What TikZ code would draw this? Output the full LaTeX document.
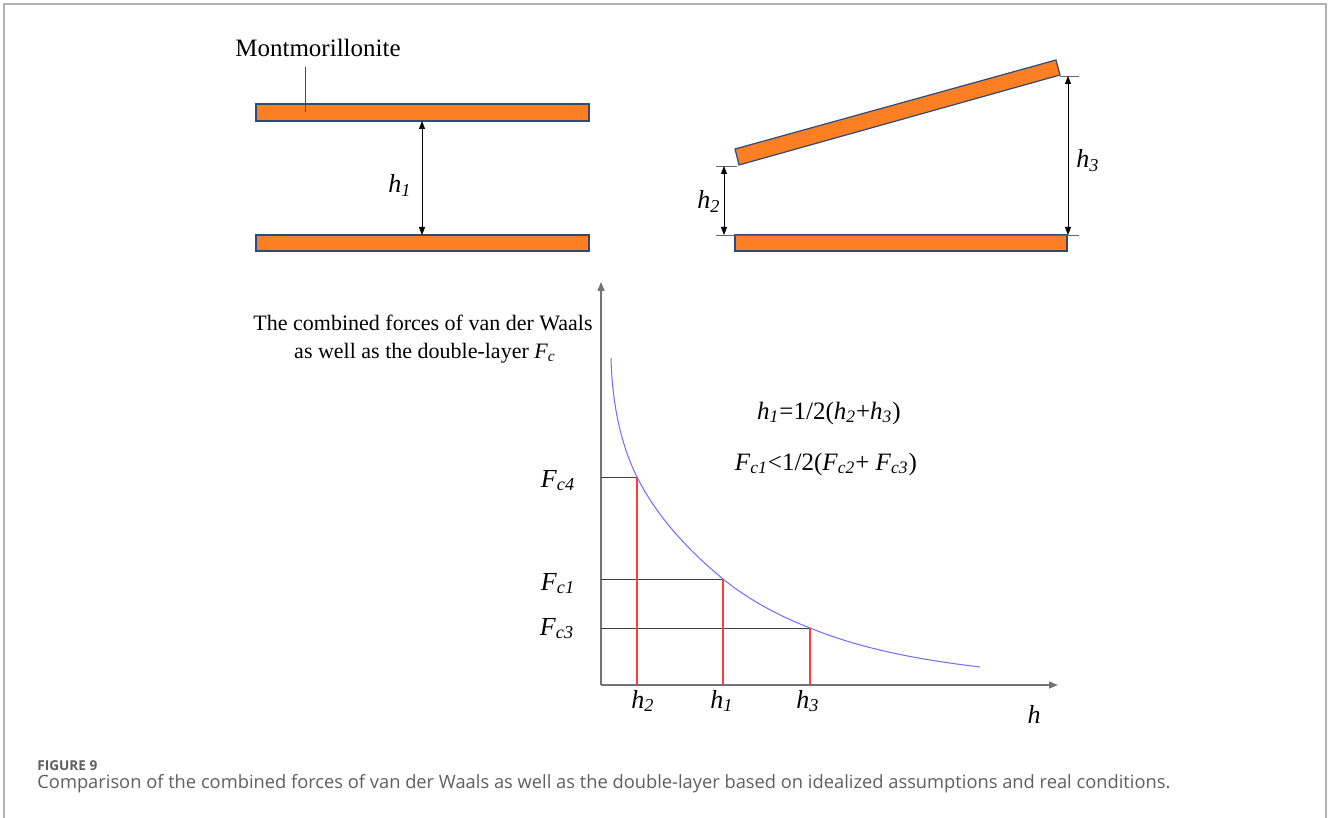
\documentclass[tikz,border=0pt]{standalone}
\usepackage{fontspec}
\setmainfont{Liberation Serif}
\newfontfamily\capfont{Open Sans}
\usepackage{tikz}
\usetikzlibrary{arrows.meta}

\definecolor{plateorange}{HTML}{FD7F23}
\definecolor{plateedge}{HTML}{2E4A78}
\definecolor{curveblue}{HTML}{6B6BFF}
\definecolor{gridred}{HTML}{FF3B3B}
\definecolor{captgray}{HTML}{5E5E5E}

\newcommand{\hh}[1]{\textit{h}\textsubscript{\textit{#1}}}
\newcommand{\Fc}[1]{\textit{F}\textsubscript{\textit{c#1}}}

\begin{document}
\begin{tikzpicture}[
  x=0.5pt,y=-0.5pt,
  line join=miter,
  plate/.style={draw=plateedge,fill=plateorange,line width=0.6pt},
  dim/.style={draw=black,line width=0.4pt,{Triangle[length=4pt,width=3pt]}-{Triangle[length=4pt,width=3pt]}},
  ext/.style={draw=black!60,line width=0.4pt},
  axis/.style={draw=black!55,line width=0.7pt,-{Triangle[length=4.5pt,width=3.5pt]}},
  guide/.style={draw=black!75,line width=0.5pt},
  redline/.style={draw=gridred,line width=0.6pt},
  lbl/.style={font=\fontsize{13}{15}\selectfont,inner sep=0pt,anchor=base},
  eqn/.style={font=\fontsize{12.5}{15}\selectfont,inner sep=0pt,anchor=base},
  ylbl/.style={font=\fontsize{11}{13}\selectfont,inner sep=0pt,anchor=base}
]
  \useasboundingbox (0,0) rectangle (1328,818);

  % frame
  \draw[black!30,line width=1pt] (4,818) -- (4,4) -- (1326,4) -- (1326,818);

  % parallel plates
  \draw[plate] (256,104) rectangle (589,121);
  \draw[plate] (256,235) rectangle (589,251);
  \node[font=\fontsize{12.5}{15}\selectfont,inner sep=0pt,anchor=base] (mont) at (318,57) {Montmorillonite};
  \draw[black!70,line width=0.4pt] (305,67) -- (305,112);
  \coordinate (p1t) at (422,121);
  \coordinate (p1b) at (422,235);
  \draw[dim] (p1t) -- (p1b);
  \node[lbl] (h1a) at (400,193) {\hh{1}};

  % tilted plate
  \draw[plate] (739,165) -- (735,149) -- (1056,60) -- (1060,75) -- cycle;
  \draw[plate] (735,235) rectangle (1067,251);
  \draw[ext] (716,166) -- (737,166);
  \draw[ext] (716,235) -- (1079,235);
  \draw[ext] (1060,76) -- (1079,76);
  \coordinate (p2t) at (724,166);
  \coordinate (p2b) at (724,235);
  \coordinate (p3t) at (1068,76);
  \coordinate (p3b) at (1068,235);
  \draw[dim] (p2t) -- (p2b);
  \draw[dim] (p3t) -- (p3b);
  \node[lbl] (h2a) at (709,209) {\hh{2}};
  \node[lbl] (h3a) at (1088,168) {\hh{3}};

  % axes
  \coordinate (O) at (601,685);
  \coordinate (ytop) at (601,282);
  \coordinate (xend) at (1058,685);
  \draw[axis] (O) -- (ytop);
  \draw[axis] (O) -- (xend);
  \node[ylbl] (ytext1) at (423,330) {The combined forces of van der Waals};
  \node[ylbl] (ytext2) at (425,358) {as well as the double-layer \Fc{}};

  % curve
  \coordinate (c2) at (637,477);
  \coordinate (c1) at (723,579);
  \coordinate (c3) at (810,628);
  \draw[curveblue,line width=0.5pt] (611,358)
    .. controls (612,398) and (619,441) .. (c2)
    .. controls (657,517) and (689,551) .. (c1)
    .. controls (749,600) and (779,616) .. (c3)
    .. controls (864,650) and (922,660) .. (980,667);

  % guide lines
  \draw[guide] (c2 -| O) -- (c2);
  \draw[guide] (c1 -| O) -- (c1);
  \draw[guide] (c3 -| O) -- (c3);
  \draw[redline] (c2) -- (c2 |- O);
  \draw[redline] (c1) -- (c1 |- O);
  \draw[redline] (c3) -- (c3 |- O);

  \node[lbl] (F4) at (558,487) {\Fc{4}};
  \node[lbl] (F1) at (558,590) {\Fc{1}};
  \node[lbl] (F3) at (557,635) {\Fc{3}};
  \node[lbl] (hx2) at (643,708) {\hh{2}};
  \node[lbl] (hx1) at (722,708) {\hh{1}};
  \node[lbl] (hx3) at (808,708) {\hh{3}};
  \node[lbl] (hx) at (1034,723) {\textit{h}};

  % relations
  \node[eqn] (eq1) at (829,419) {\hh{1}=1/2(\hh{2}+\hh{3})};
  \node[eqn] (eq2) at (826,470) {\Fc{1}<1/2(\Fc{2}+ \Fc{3})};

  % caption
  \node[font=\capfont\fontsize{6.8}{8}\selectfont\bfseries,text=captgray,inner sep=0pt,anchor=base west] (fig) at (37,770) {FIGURE 9};
  \node[font=\capfont\fontsize{9.15}{11}\selectfont,text=captgray,inner sep=0pt,anchor=base west] (cap) at (37,788) {Comparison of the combined forces of van der Waals as well as the double-layer based on idealized assumptions and real conditions.};
\end{tikzpicture}
\end{document}
